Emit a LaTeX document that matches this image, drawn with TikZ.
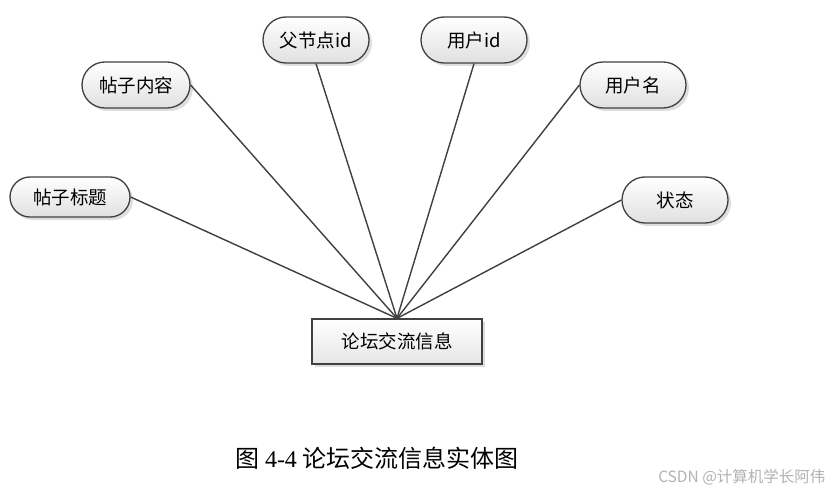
\documentclass[tikz,border=0pt]{standalone}
\usepackage{fontspec}
\newfontfamily\cjk{Noto Sans CJK SC}
\newfontfamily\numfont{Liberation Serif}
\usetikzlibrary{shapes.misc,shadows}
\begin{document}
\begin{tikzpicture}[x=1pt,y=-1pt,
  attr/.style={rounded rectangle,draw=black!75,line width=1.3pt,
    minimum width=106pt,minimum height=46pt,inner sep=0pt,
    top color=white,bottom color=black!12,
    drop shadow={shadow xshift=3pt,shadow yshift=-3pt,fill=black!25,opacity=0.5},
    font=\cjk\fontsize{18.5}{22}\selectfont},
  ent/.style={rectangle,draw=black!75,line width=1.3pt,
    minimum width=170pt,minimum height=45pt,inner sep=0pt,
    top color=white,bottom color=black!10,
    drop shadow={shadow xshift=3pt,shadow yshift=-3pt,fill=black!25,opacity=0.5},
    font=\cjk\fontsize{18.5}{22}\selectfont},
  link/.style={draw=black!75,line width=1.4pt}]
\useasboundingbox (0,0) rectangle (838,492);
\fill[white] (0,0) rectangle (838,492);
\node[attr,minimum width=120pt,minimum height=40pt] (t1) at (70,197) {帖子标题};
\node[attr,minimum width=108pt] (t2) at (136,85) {帖子内容};
\node[attr] (t3) at (316,40) {父节点id};
\node[attr] (t4) at (474,40) {用户id};
\node[attr] (t5) at (633,85) {用户名};
\node[attr] (t6) at (675,200) {状态};
\node[ent] (e) at (397,341.5) {论坛交流信息};
\coordinate (hub) at (e.north);
\draw[link] (t1.east) -- (hub);
\draw[link] (t2.east) -- (hub);
\draw[link] (t3.south) -- (hub);
\draw[link] (t4.south) -- (hub);
\draw[link] (t5.west) -- (hub);
\draw[link] (t6.west) -- (hub);
\node[font=\cjk\fontsize{24}{28}\selectfont] (cap) at (377,458) {图\hspace{6pt}{\numfont 4-4}\hspace{6pt}论坛交流信息实体图};
\node[font=\cjk\fontsize{15.5}{18}\selectfont,text=black!30,anchor=east] (wm) at (829,477) {CSDN @计算机学长阿伟};
\end{tikzpicture}
\end{document}
